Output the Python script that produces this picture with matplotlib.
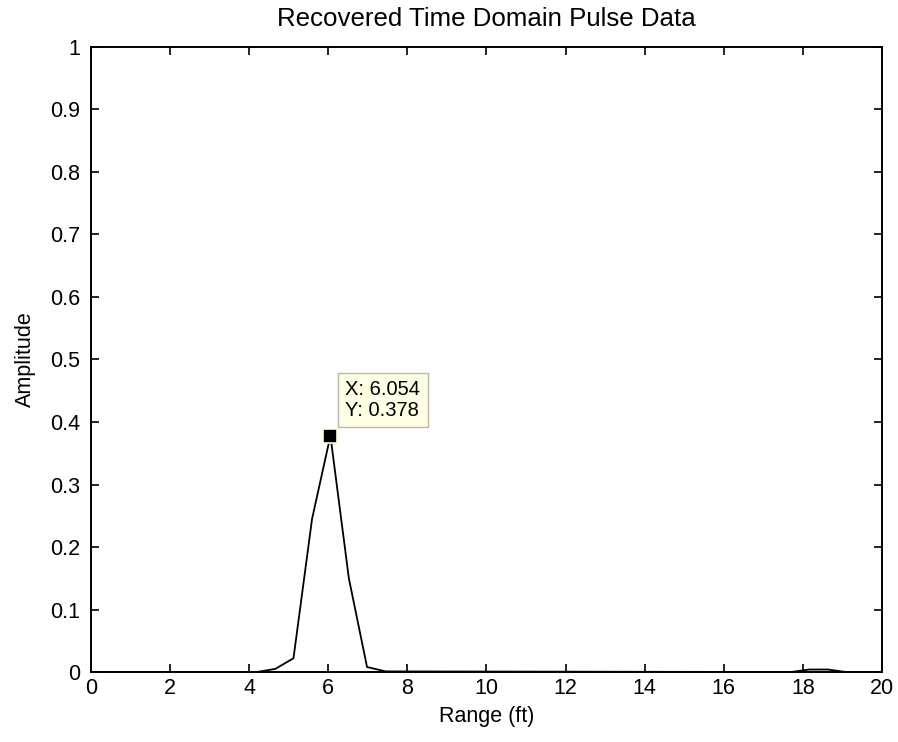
import matplotlib.pyplot as plt

# sampled range (ft) and recovered amplitude
range_ft = [0.0, 4.19, 4.66, 5.12, 5.59, 6.054, 6.52, 6.98, 7.45, 17.70, 18.16, 18.63, 19.09, 20.0]
amplitude = [0.0, 0.0, 0.005, 0.022, 0.245, 0.378, 0.15, 0.008, 0.001, 0.0, 0.004, 0.004, 0.0, 0.0]

tip_x = 6.054
tip_y = 0.378

x_ticks = list(range(0, 21, 2))
y_ticks = [0, 0.1, 0.2, 0.3, 0.4, 0.5, 0.6, 0.7, 0.8, 0.9, 1]
y_tick_labels = ['0', '0.1', '0.2', '0.3', '0.4', '0.5', '0.6', '0.7', '0.8', '0.9', '1']

plt.rcParams['font.family'] = ['Liberation Sans', 'DejaVu Sans']
plt.rcParams['font.size'] = 15.5

fig = plt.figure(figsize=(8.98, 7.42), dpi=100)
ax = fig.add_axes([0.1013, 0.0943, 0.8809, 0.8424])

ax.plot(range_ft, amplitude, color='black', linewidth=1.3)

# data tip
ax.plot([tip_x], [tip_y], marker='s', markersize=9.5, color='black',
        markeredgecolor='#ffffd8', markeredgewidth=1.2, zorder=5)
ax.annotate('X: %.3f\nY: %.3f' % (tip_x, tip_y), xy=(tip_x, tip_y),
            xytext=(15, 16), textcoords='offset pixels',
            ha='left', va='bottom', fontsize=14.5, linespacing=1.12,
            bbox=dict(boxstyle='square,pad=0.36', facecolor='#ffffe6',
                      edgecolor='#b8b8a8', linewidth=1))

ax.set_xlim(0, 20)
ax.set_ylim(0, 1)
ax.set_xticks(x_ticks)
ax.set_yticks(y_ticks)
ax.set_yticklabels(y_tick_labels)
ax.tick_params(direction='in', length=6, width=1.2, top=True, right=True)
ax.tick_params(axis='x', pad=4)
ax.tick_params(axis='y', pad=8)
for s in ax.spines.values():
    s.set_linewidth(1.4)

ax.set_title('Recovered Time Domain Pulse Data', pad=15)
ax.set_xlabel('Range (ft)', labelpad=5)
ax.set_ylabel('Amplitude', labelpad=10)

fig.savefig('out.png', dpi=100)
